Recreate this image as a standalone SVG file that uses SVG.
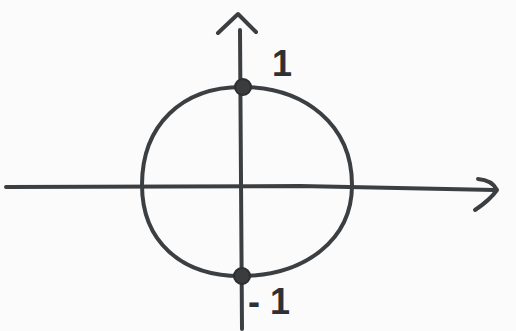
<svg xmlns="http://www.w3.org/2000/svg" width="516" height="331" viewBox="0 0 516 331">
<style>
.ln{fill:none;stroke:#3c3f42;stroke-width:4;stroke-linecap:round;stroke-linejoin:round}
.dot{fill:#3a3c3e;stroke:#2c2e30;stroke-width:2}
.lbl{font-family:"Liberation Sans",Arial,sans-serif;font-size:36px;font-weight:bold;fill:#2e3033}
</style>
<rect width="516" height="331" fill="#fbfbfb"/>
<g id="connectors">
<path class="ln" d="M6 187 L300 186 L495 190"/>
<path class="ln" d="M478 179 Q492 180 497 190 Q490 200 475 210"/>
<path class="ln" d="M240 30 L241 180 L242 329"/>
<path class="ln" d="M218 33 L238 14 L256 32"/>
</g>
<g id="circle">
<path class="ln" d="M242 87 C305 87 352 125 352 185 C352 240 305 275 243 276 C180 277 142 240 142 185 C142 125 182 87 242 87 Z"/>
</g>
<g id="p1">
<circle class="dot" cx="243" cy="87" r="8"/>
<text class="lbl" x="272" y="76">1</text>
</g>
<g id="pm1">
<circle class="dot" cx="242" cy="276" r="8"/>
<text class="lbl" x="248" y="314" letter-spacing="10">-1</text>
</g>
</svg>
